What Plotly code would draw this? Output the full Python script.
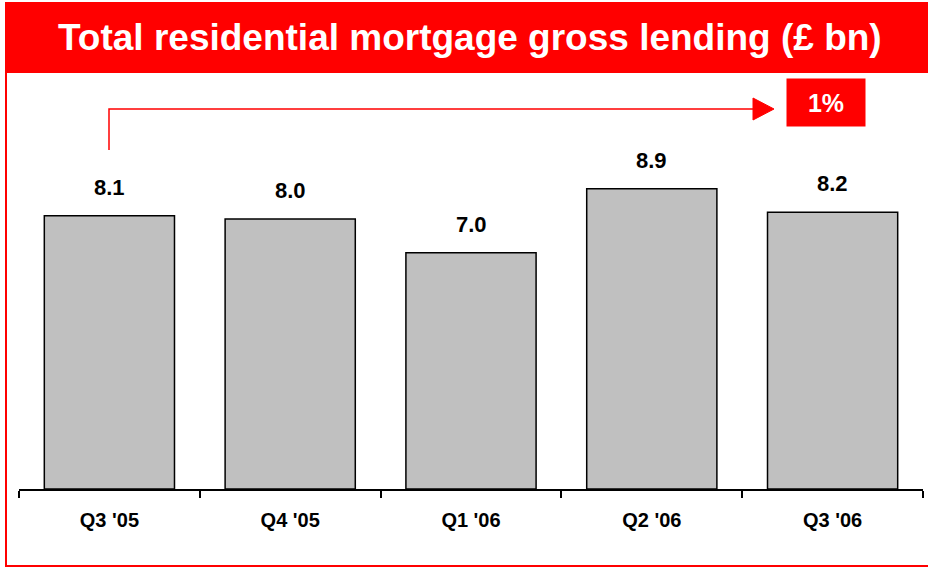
import plotly.graph_objects as go

quarters = ["Q3 '05", "Q4 '05", "Q1 '06", "Q2 '06", "Q3 '06"]
lending = [8.1, 8.0, 7.0, 8.9, 8.2]
change_label = "1%"
title_text = "Total residential mortgage gross lending (£ bn)"

W, H = 928, 568
L, R, T, B = 19, 5, 73, 79
PW, PH = W - L - R, H - T - B


def px_x(px):
    return (px - L) / PW


def px_y(py):
    return (H - B - py) / PH


RED = "#FF0000"
FONT = "Liberation Sans, Arial, sans-serif"

fig = go.Figure(
    go.Bar(
        x=quarters,
        y=lending,
        width=0.72,
        marker=dict(color="#C0C0C0", line=dict(color="black", width=1.5)),
        hoverinfo="skip",
    )
)

annotations = []
for q, v in zip(quarters, lending):
    annotations.append(dict(
        x=q, y=v, xref="x", yref="y", text=f"<b>{v:.1f}</b>", showarrow=False,
        yanchor="bottom", yshift=14, font=dict(family=FONT, size=22, color="black"),
    ))

# title band
annotations.append(dict(
    x=px_x(470), y=px_y(37), xref="paper", yref="paper", text=f"<b>{title_text}</b>",
    showarrow=False, xanchor="center", yanchor="middle",
    font=dict(family=FONT, size=37, color="white"),
))

# change badge
annotations.append(dict(
    x=px_x(826), y=px_y(103), xref="paper", yref="paper", text=f"<b>{change_label}</b>",
    showarrow=False, xanchor="center", yanchor="middle", width=78, height=47,
    bgcolor=RED, borderpad=0, font=dict(family=FONT, size=25, color="white"),
))

shapes = [
    dict(type="rect", xref="paper", yref="paper", x0=px_x(5), x1=px_x(928),
         y0=px_y(2), y1=px_y(73), fillcolor=RED, line=dict(width=0), layer="below"),
    dict(type="line", xref="paper", yref="paper", x0=px_x(6), x1=px_x(6),
         y0=px_y(73), y1=px_y(566), line=dict(color=RED, width=2)),
    dict(type="line", xref="paper", yref="paper", x0=px_x(5), x1=px_x(928),
         y0=px_y(566), y1=px_y(566), line=dict(color=RED, width=2)),
    # growth arrow from the first bar
    dict(type="path", xref="paper", yref="paper",
         path=f"M {px_x(109)},{px_y(150)} L {px_x(109)},{px_y(109)} L {px_x(757)},{px_y(109)}",
         line=dict(color=RED, width=1.5)),
    dict(type="path", xref="paper", yref="paper",
         path=f"M {px_x(753)},{px_y(98)} L {px_x(774)},{px_y(109)} L {px_x(753)},{px_y(120)} Z",
         fillcolor=RED, line=dict(color=RED, width=1)),
]

fig.update_layout(
    width=W, height=H,
    margin=dict(l=L, r=R, t=T, b=B),
    paper_bgcolor="white", plot_bgcolor="white",
    showlegend=False,
    annotations=annotations,
    shapes=shapes,
    xaxis=dict(
        type="category", range=[-0.5, 4.5], showline=True, linecolor="black", linewidth=2,
        ticks="outside", tickson="boundaries", ticklen=7, tickwidth=2, tickcolor="black",
        showgrid=False, zeroline=False, ticklabelstandoff=12,
        tickfont=dict(family=FONT, size=20, color="black", weight="bold"),
    ),
    yaxis=dict(range=[0, 416 / 33.75], visible=False, showgrid=False, zeroline=False),
)

fig.write_html("out.html")
